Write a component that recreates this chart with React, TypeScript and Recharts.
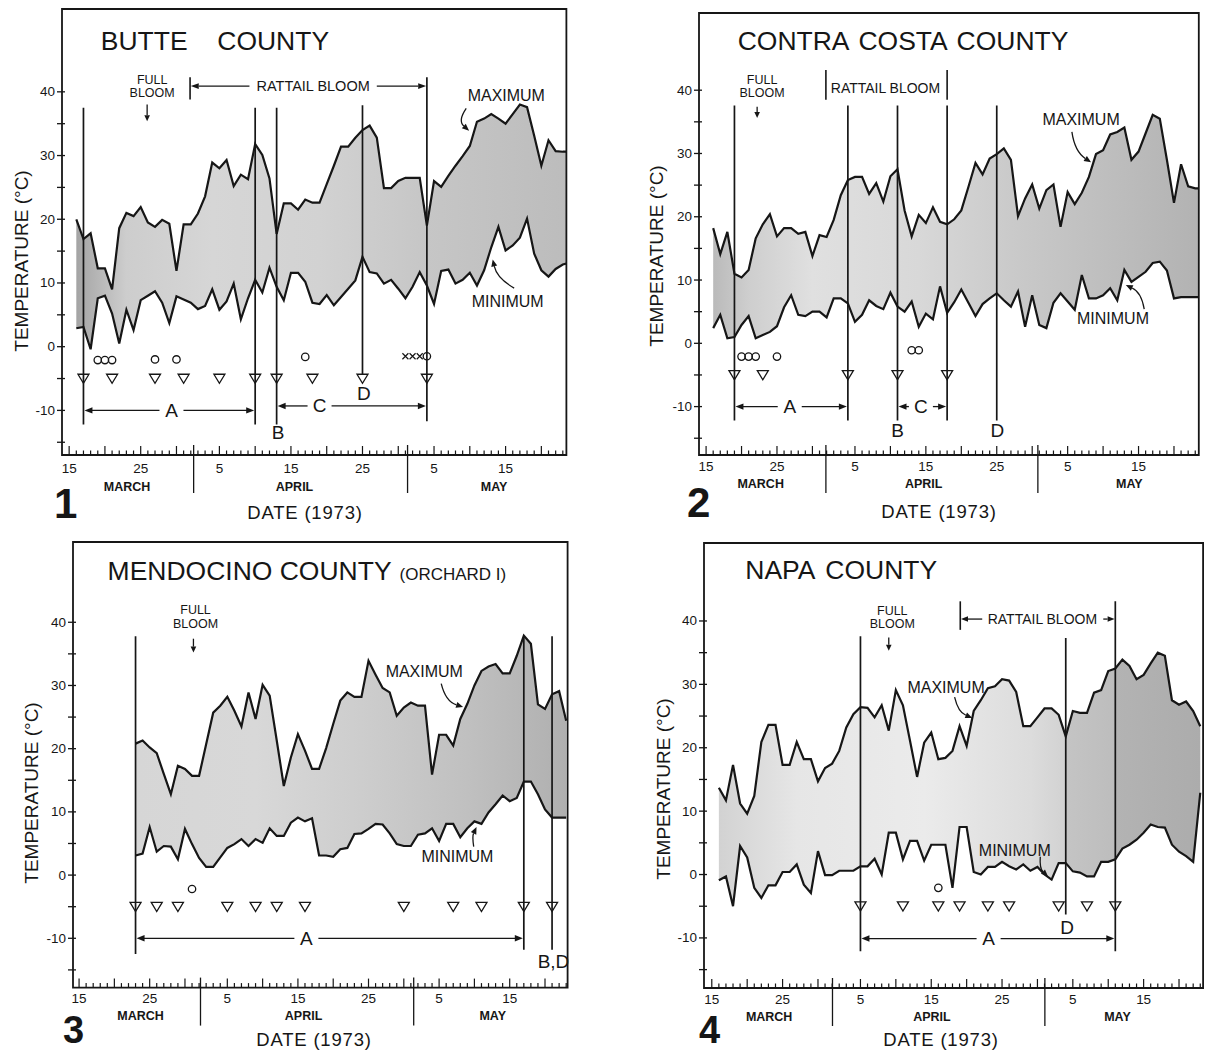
import React from 'react';
import {
  ComposedChart, Area, Line, XAxis, YAxis, ReferenceLine, ReferenceDot, ReferenceArea, Scatter,
} from 'recharts';

const FONT = '"Liberation Sans", Arial, Helvetica, sans-serif';
const INK = '#161616';

// ---------------- shared axis vocabulary (day 0 = 15 March 1973) ----------------
const dateTickLabels: Record<number, string> = { 0: '15', 10: '25', 21: '5', 31: '15', 41: '25', 51: '5', 61: '15' };
const monthNames = ['MARCH', 'APRIL', 'MAY'];
const tempTicks = [-15, -10, -5, 0, 5, 10, 15, 20, 25, 30, 35, 40];

// ---------------- 1  Butte County ----------------
const butteFirstDay = 1;
const butteMax = [
  20.0, 16.9, 17.8, 12.3, 12.3, 9.0, 18.6, 21.0, 20.5, 21.9,
  19.5, 18.8, 19.9, 19.3, 11.9, 19.2, 19.2, 20.9, 23.6, 28.9,
  28.0, 29.3, 25.2, 27.0, 26.3, 31.8, 30.1, 26.4, 17.7, 22.5,
  22.5, 21.5, 23.1, 22.6, 22.6, 25.5, 28.4, 31.4, 31.4, 32.8,
  34.0, 34.7, 32.8, 24.9, 24.9, 26.0, 26.5, 26.5, 26.5, 19.0,
  26.0, 25.1, 26.8, 28.4, 29.9, 31.5, 35.3, 35.8, 36.5, 35.8,
  35.0, 36.5, 38.0, 37.6, 33.1, 28.4, 32.4, 30.7, 30.6, 30.6,
];
const butteMin = [
  2.9, 3.1, -0.4, 7.6, 8.0, 5.2, 0.5, 5.8, 2.6, 7.3,
  8.0, 8.7, 6.9, 3.7, 7.9, 7.4, 6.9, 5.9, 6.4, 9.0,
  5.8, 7.1, 9.9, 4.3, 7.6, 10.5, 8.5, 12.4, 9.4, 7.3,
  11.6, 11.6, 10.2, 6.9, 6.7, 8.1, 6.5, 7.8, 9.1, 10.4,
  14.1, 11.7, 11.5, 9.9, 10.5, 9.1, 7.6, 9.4, 11.7, 9.6,
  6.7, 11.9, 12.1, 9.9, 10.5, 11.6, 9.6, 12.0, 15.6, 18.8,
  15.1, 15.9, 17.1, 20.1, 14.6, 12.0, 11.0, 12.2, 12.9, 13.2,
];
const butteTriangles = [2, 6, 12, 16, 21, 26, 29, 34, 41, 50];
const butteCircles = [
  { day: 4, t: -2.1 }, { day: 5, t: -2.1 }, { day: 6, t: -2.1 }, { day: 12, t: -2.0 },
  { day: 15, t: -2.0 }, { day: 33, t: -1.6 }, { day: 50, t: -1.5 },
];
const butteCrosses = [{ day: 47, t: -1.5 }, { day: 48, t: -1.5 }, { day: 49, t: -1.5 }];

// ---------------- 2  Contra Costa County ----------------
const contraFirstDay = 1;
const contraMax = [
  18.2, 14.1, 17.6, 11.0, 10.4, 11.6, 16.6, 18.8, 20.4, 16.9,
  18.2, 18.2, 17.3, 17.6, 13.8, 17.1, 16.8, 19.5, 23.4, 25.8,
  26.3, 26.3, 23.6, 25.3, 22.4, 26.4, 27.5, 21.0, 16.9, 20.3,
  19.0, 21.5, 19.2, 18.8, 19.6, 21.0, 24.7, 28.5, 26.7, 29.2,
  29.9, 30.8, 29.0, 20.1, 22.9, 25.1, 21.3, 24.2, 25.1, 18.4,
  23.9, 22.0, 23.8, 26.3, 29.9, 30.5, 33.0, 33.4, 34.1, 29.0,
  30.3, 33.2, 36.1, 35.5, 29.0, 22.2, 28.3, 24.8, 24.5, 24.5,
];
const contraMin = [
  2.4, 4.5, 0.8, 1.0, 2.9, 4.3, 0.8, 1.3, 1.8, 2.7,
  5.7, 7.6, 4.5, 4.3, 5.0, 5.0, 4.1, 7.1, 7.1, 6.3,
  3.4, 4.5, 6.8, 5.9, 5.4, 8.0, 5.8, 5.0, 6.6, 2.6,
  4.7, 3.8, 9.0, 4.8, 6.5, 8.5, 6.4, 4.3, 6.2, 7.1,
  7.9, 6.8, 5.8, 8.2, 2.6, 7.6, 2.9, 2.4, 6.4, 7.9,
  6.6, 5.3, 10.8, 7.1, 7.1, 7.6, 8.7, 6.8, 11.6, 9.7,
  10.5, 11.3, 12.7, 12.9, 11.5, 7.1, 7.3, 7.3, 7.3, 7.3,
];
const contraTriangles = [4, 8, 20, 27, 34];
const contraCircles = [
  { day: 5, t: -2.1 }, { day: 6, t: -2.1 }, { day: 7, t: -2.1 }, { day: 10, t: -2.1 },
  { day: 29, t: -1.1 }, { day: 30, t: -1.1 },
];

// ---------------- 3  Mendocino County (Orchard I) ----------------
const mendoFirstDay = 8;
const mendoMax = [
  20.8, 21.3, 20.2,
  19.3, 16.0, 12.8, 17.3, 16.8, 15.7, 15.7, 20.7, 25.7, 26.8,
  28.2, 26.0, 23.5, 28.9, 24.7, 30.1, 28.4, 21.3, 14.1, 18.6,
  22.3, 19.7, 16.8, 16.8, 20.1, 23.9, 27.6, 28.9, 28.2, 28.2,
  33.9, 31.7, 29.6, 28.9, 25.2, 26.5, 27.3, 26.8, 26.8, 15.9,
  22.2, 22.2, 20.5, 24.7, 27.1, 30.0, 32.3, 33.0, 33.4, 31.9,
  31.9, 34.7, 37.9, 36.6, 27.0, 26.3, 28.6, 29.1, 24.4,
];
const mendoMin = [
  3.1, 3.4, 7.6,
  3.7, 4.6, 4.5, 2.5, 7.3, 4.9, 2.7, 1.3, 1.3, 2.8,
  4.3, 4.9, 5.7, 4.6, 5.7, 5.1, 7.4, 6.2, 6.2, 8.3,
  9.1, 8.5, 9.0, 3.1, 3.1, 2.9, 4.1, 4.3, 6.5, 6.6,
  7.3, 8.1, 8.0, 6.6, 4.9, 4.6, 4.6, 6.4, 6.6, 7.4,
  5.4, 8.1, 8.1, 6.0, 7.4, 8.5, 8.1, 9.9, 11.2, 12.6,
  11.7, 12.2, 14.8, 14.8, 12.8, 10.4, 9.1, 9.1, 9.1,
];
const mendoTriangles = [8, 11, 14, 21, 25, 28, 32, 46, 53, 57, 63, 67];
const mendoCircles = [{ day: 16, t: -2.2 }];

// ---------------- 4  Napa County ----------------
const napaFirstDay = 1;
const napaMax = [
  13.7, 11.7, 17.3, 11.2, 9.6, 12.4, 20.9, 23.6, 23.6, 17.3,
  17.3, 20.9, 18.2, 18.2, 14.7, 16.8, 17.5, 19.5, 23.2, 25.3,
  26.4, 26.3, 24.8, 26.7, 22.7, 29.1, 26.7, 21.1, 15.4, 20.8,
  22.4, 18.2, 18.4, 19.5, 23.4, 20.3, 25.8, 27.5, 29.4, 29.7,
  30.8, 30.6, 28.8, 23.4, 23.4, 24.8, 26.2, 26.2, 25.2, 21.8,
  25.8, 25.5, 25.5, 28.7, 29.1, 32.1, 32.5, 33.9, 32.9, 30.8,
  31.5, 33.3, 35.0, 34.5, 27.5, 26.8, 27.3, 25.8, 23.4,
];
const napaMin = [
  -0.9, -0.3, -5.0, 4.5, 2.7, -2.1, -3.7, -1.7, -1.7, 0.4,
  0.4, 1.6, -1.6, -2.9, 3.7, -0.1, -0.1, 0.6, 0.6, 0.6,
  1.3, 1.3, 2.5, 0.0, 6.6, 6.6, 2.4, 5.3, 5.3, 2.2,
  4.7, 4.7, 4.7, -2.1, 7.5, 7.5, 0.4, 0.0, 1.2, 1.2,
  2.0, 1.3, 0.8, 1.6, 0.6, 1.2, 0.0, -0.8, 1.8, 1.8,
  0.5, 0.3, -0.3, -0.3, 2.0, 2.0, 2.4, 4.1, 4.7, 5.5,
  6.6, 7.9, 7.5, 7.4, 4.7, 3.6, 2.9, 2.0, 12.9,
];
const napaTriangles = [21, 27, 32, 35, 39, 42, 49, 53, 57];
const napaCircles = [{ day: 32, t: -2.1 }];

// ---------------- helpers ----------------
const dayOfMonth = (d: number) => (d <= 16 ? 15 + d : d <= 46 ? d - 16 : d - 46);

type Pt = [number, number];
type TextItem = { x: number; y: number; text: string; size: number; anchor?: string; baseline?: string; ws?: number };
type PanelCfg = {
  key: string; left: number; top: number; w: number; h: number;
  xDomain: [number, number]; yDomain: [number, number];
  firstDay: number; max: number[]; min: number[]; shade: [number, string][];
  triangles: number[]; circles: { day: number; t: number }[]; crosses: { day: number; t: number }[];
  stageLines: { day: number; top: number; bottom: number }[];
  bars: { day: number; top: number; bottom: number }[];
  pointers: { from: Pt; to: Pt; head?: number }[];
  spans: { from: number; to: number; y: number; label: string; at: number }[];
  curves: { from: Pt; to: Pt; bulge: number }[];
  texts: TextItem[];
  separators: number[]; monthDays: number[]; tickDy: number; monthDy: number;
};

const arrowHead = (x2: number, y2: number, ux: number, uy: number, hl: number, hw: number) => {
  const bx = x2 - ux * hl, by = y2 - uy * hl;
  return `M${x2},${y2} L${bx - uy * hw},${by + ux * hw} L${bx + uy * hw},${by - ux * hw} Z`;
};

const curveShape = (bulge: number) => (p: any) => {
  const { x1, y1, x2, y2 } = p;
  const dx = x2 - x1, dy = y2 - y1;
  const len = Math.hypot(dx, dy) || 1;
  const cx = (x1 + x2) / 2 + (dy / len) * bulge;
  const cy = (y1 + y2) / 2 - (dx / len) * bulge;
  const ax = x2 - cx, ay = y2 - cy;
  const al = Math.hypot(ax, ay) || 1;
  const ux = ax / al, uy = ay / al;
  const hl = 7;
  return (
    <g>
      <path d={`M${x1},${y1} Q${cx},${cy} ${x2 - ux * hl},${y2 - uy * hl}`} fill="none" stroke={INK} strokeWidth={1.3} />
      <path d={arrowHead(x2, y2, ux, uy, hl, 3)} fill={INK} />
    </g>
  );
};

const pointerShape = (hl: number) => (p: any) => {
  const { x1, y1, x2, y2 } = p;
  const dx = x2 - x1, dy = y2 - y1;
  const len = Math.hypot(dx, dy) || 1;
  const ux = dx / len, uy = dy / len;
  return (
    <g>
      <line x1={x1} y1={y1} x2={x2 - ux * hl} y2={y2 - uy * hl} stroke={INK} strokeWidth={1.3} />
      <path d={arrowHead(x2, y2, ux, uy, hl, 2.8)} fill={INK} />
    </g>
  );
};

const spanShape = (frac: number, label: string) => (p: any) => {
  const { x1, y1, x2 } = p;
  const lx = x1 + (x2 - x1) * frac;
  const gap = 12, hl = 8, hw = 3.2;
  return (
    <g>
      <line x1={x1 + hl} y1={y1} x2={lx - gap} y2={y1} stroke={INK} strokeWidth={1.3} />
      <line x1={lx + gap} y1={y1} x2={x2 - hl} y2={y1} stroke={INK} strokeWidth={1.3} />
      <path d={`M${x1 + 1},${y1} L${x1 + 1 + hl},${y1 - hw} L${x1 + 1 + hl},${y1 + hw} Z`} fill={INK} />
      <path d={`M${x2 - 1},${y1} L${x2 - 1 - hl},${y1 - hw} L${x2 - 1 - hl},${y1 + hw} Z`} fill={INK} />
      <text x={lx} y={y1} textAnchor="middle" dominantBaseline="central" fontSize={19} fontFamily={FONT} fill={INK}>{label}</text>
    </g>
  );
};

const triShape = (p: any) => {
  const { cx, cy } = p;
  return <path d={`M${cx - 5.5},${cy - 4.3} L${cx + 5.5},${cy - 4.3} L${cx},${cy + 4.8} Z`} fill="none" stroke={INK} strokeWidth={1.3} />;
};
const circleShape = (p: any) => <circle cx={p.cx} cy={p.cy} r={3.7} fill="none" stroke={INK} strokeWidth={1.3} />;
const crossShape = (p: any) => (
  <path d={`M${p.cx - 3},${p.cy - 3} L${p.cx + 3},${p.cy + 3} M${p.cx - 3},${p.cy + 3} L${p.cx + 3},${p.cy - 3}`} stroke={INK} strokeWidth={1.2} />
);

const textShape = (t: TextItem) => (p: any) => (
  <text
    x={p.cx} y={p.cy}
    textAnchor={t.anchor || 'middle'}
    dominantBaseline={t.baseline || 'central'}
    fontSize={t.size} fontFamily={FONT} fill={INK}
    style={t.ws ? { wordSpacing: t.ws } : undefined}
  >{t.text}</text>
);

const makeXTick = (cfg: PanelCfg) => (p: any) => {
  const { x, y, payload } = p;
  const v = payload.value;
  if (cfg.separators.includes(v)) {
    return <line x1={x} x2={x} y1={y - 10} y2={y + 38} stroke={INK} strokeWidth={1.3} />;
  }
  const mi = cfg.monthDays.indexOf(v);
  if (mi >= 0) {
    return (
      <text x={x} y={y + cfg.monthDy} textAnchor="middle" dominantBaseline="central" fontSize={12.5} fontWeight="bold" fontFamily={FONT} fill={INK}>
        {monthNames[mi]}
      </text>
    );
  }
  const major = dayOfMonth(v) % 5 === 0;
  const lbl = dateTickLabels[v];
  return (
    <g>
      <line x1={x} x2={x} y1={y} y2={y - (major ? 9 : 4.5)} stroke={INK} strokeWidth={1.2} />
      {lbl ? (
        <text x={x} y={y + cfg.tickDy} textAnchor="middle" dominantBaseline="central" fontSize={13.5} fontFamily={FONT} fill={INK}>{lbl}</text>
      ) : null}
    </g>
  );
};

const yTick = (p: any) => {
  const { x, y, payload } = p;
  const v = payload.value;
  return (
    <g>
      <line x1={x - 5} x2={x + 3} y1={y} y2={y} stroke={INK} strokeWidth={1.3} />
      {v % 10 === 0 ? (
        <text x={x - 7} y={y} textAnchor="end" dominantBaseline="central" fontSize={13.5} fontFamily={FONT} fill={INK}>{v}</text>
      ) : null}
    </g>
  );
};

// ---------------- panel layouts & annotations ----------------
const panels: PanelCfg[] = [
  {
    key: 'butte', left: 62, top: 9, w: 504.4, h: 446, xDomain: [-1, 69.5], yDomain: [-17, 53],
    firstDay: butteFirstDay, max: butteMax, min: butteMin,
    shade: [[1, '#a4a4a4'], [4, '#b6b6b6'], [8, '#cdcdcd'], [20, '#d6d6d6'], [35, '#d2d2d2'], [50, '#c6c6c6'], [70, '#bcbcbc']],
    triangles: butteTriangles, circles: butteCircles, crosses: butteCrosses,
    stageLines: [
      { day: 2, top: 37.5, bottom: -12.2 }, { day: 26, top: 37.5, bottom: -12.2 },
      { day: 29, top: 37.5, bottom: -12.2 }, { day: 41, top: 37.9, bottom: -4.3 },
      { day: 50, top: 42.3, bottom: -11.7 },
    ],
    bars: [{ day: 16.9, top: 42.3, bottom: 38.8 }],
    pointers: [
      { from: [10.9, 38.0], to: [10.9, 35.4], head: 6 },
      { from: [25.2, 40.9], to: [17.0, 40.9], head: 8 },
      { from: [43.0, 40.9], to: [49.9, 40.9], head: 8 },
    ],
    spans: [
      { from: 2, to: 26, y: -10, label: 'A', at: 14.3 },
      { from: 29, to: 50, y: -9.3, label: 'C', at: 35 },
    ],
    curves: [
      { from: [55.5, 37.4], to: [55.9, 33.9], bulge: -10 },
      { from: [62.2, 9.2], to: [59.2, 13.7], bulge: 8 },
    ],
    texts: [
      { x: 4.42, y: 46.6, text: 'BUTTE', size: 26.5, anchor: 'start', baseline: 'alphabetic' },
      { x: 20.7, y: 46.6, text: 'COUNTY', size: 26.5, anchor: 'start', baseline: 'alphabetic' },
      { x: 11.6, y: 41.9, text: 'FULL', size: 12.5 },
      { x: 11.6, y: 39.8, text: 'BLOOM', size: 12.5 },
      { x: 34.1, y: 40.9, text: 'RATTAIL BLOOM', size: 14.5 },
      { x: 61.1, y: 39.5, text: 'MAXIMUM', size: 16 },
      { x: 61.3, y: 7.1, text: 'MINIMUM', size: 16 },
      { x: 29.2, y: -13.4, text: 'B', size: 19 },
      { x: 41.2, y: -7.4, text: 'D', size: 19 },
    ],
    separators: [17.4, 47.3], monthDays: [8.1, 31.5, 59.4], tickDy: 14, monthDy: 32,
  },
  {
    key: 'contra', left: 698.9, top: 13, w: 499.8, h: 442, xDomain: [-1, 69.5], yDomain: [-17.65, 52.2],
    firstDay: contraFirstDay, max: contraMax, min: contraMin,
    shade: [[1, '#bababa'], [6, '#cecece'], [15, '#e0e0e0'], [30, '#d8d8d8'], [45, '#c8c8c8'], [60, '#bbbbbb'], [70, '#b2b2b2']],
    triangles: contraTriangles, circles: contraCircles, crosses: [],
    stageLines: [
      { day: 4, top: 37.6, bottom: -12.2 }, { day: 20, top: 37.6, bottom: -12.2 },
      { day: 27, top: 37.6, bottom: -12.2 }, { day: 34, top: 37.6, bottom: -12.2 },
      { day: 41, top: 37.6, bottom: -12.2 },
    ],
    bars: [{ day: 16.9, top: 43.2, bottom: 38.5 }, { day: 34, top: 43.2, bottom: 38.5 }],
    pointers: [{ from: [7.2, 37.4], to: [7.2, 35.6], head: 6 }],
    spans: [
      { from: 4, to: 20, y: -10, label: 'A', at: 11.8 },
      { from: 27, to: 34, y: -10, label: 'C', at: 30.3 },
    ],
    curves: [
      { from: [51.6, 33.4], to: [54.3, 28.6], bulge: -8 },
      { from: [61.8, 5.4], to: [59.2, 9.2], bulge: -8 },
    ],
    texts: [
      { x: 4.46, y: 46.3, text: 'CONTRA COSTA COUNTY', size: 26.5, anchor: 'start', baseline: 'alphabetic', ws: 3 },
      { x: 7.9, y: 41.6, text: 'FULL', size: 12.5 },
      { x: 7.9, y: 39.6, text: 'BLOOM', size: 12.5 },
      { x: 25.3, y: 40.4, text: 'RATTAIL BLOOM', size: 14 },
      { x: 52.9, y: 35.4, text: 'MAXIMUM', size: 16 },
      { x: 57.4, y: 3.9, text: 'MINIMUM', size: 16 },
      { x: 27, y: -13.7, text: 'B', size: 19 },
      { x: 41.1, y: -13.7, text: 'D', size: 19 },
    ],
    separators: [16.9, 46.8], monthDays: [7.7, 30.7, 59.7], tickDy: 12, monthDy: 29,
  },
  {
    key: 'mendo', left: 73.1, top: 542, w: 494.6, h: 445.6, xDomain: [-0.86, 69.2], yDomain: [-17.8, 52.7],
    firstDay: mendoFirstDay, max: mendoMax, min: mendoMin,
    shade: [[8, '#d6d6d6'], [25, '#d8d8d8'], [40, '#cdcdcd'], [55, '#c0c0c0'], [69, '#b0b0b0']],
    triangles: mendoTriangles, circles: mendoCircles, crosses: [],
    stageLines: [
      { day: 8, top: 37.8, bottom: -12.5 }, { day: 63, top: 37.8, bottom: -11.8 },
      { day: 67, top: 37.8, bottom: -11.8 },
    ],
    bars: [],
    pointers: [{ from: [16.2, 37.4], to: [16.2, 35.2], head: 6 }],
    spans: [{ from: 8, to: 63, y: -10, label: 'A', at: 32.2 }],
    curves: [
      { from: [51.3, 30.3], to: [54.4, 26.6], bulge: -9 },
      { from: [55.9, 4.5], to: [56.3, 7.6], bulge: 3 },
    ],
    texts: [
      { x: 4.04, y: 46.7, text: 'MENDOCINO COUNTY', size: 26.5, anchor: 'start', baseline: 'alphabetic' },
      { x: 45.4, y: 46.7, text: '(ORCHARD I)', size: 17, anchor: 'start', baseline: 'alphabetic' },
      { x: 16.5, y: 41.9, text: 'FULL', size: 12.5 },
      { x: 16.5, y: 39.7, text: 'BLOOM', size: 12.5 },
      { x: 48.9, y: 32.2, text: 'MAXIMUM', size: 16 },
      { x: 53.6, y: 2.9, text: 'MINIMUM', size: 16 },
      { x: 67.2, y: -13.6, text: 'B,D', size: 19 },
    ],
    separators: [17.2, 47.4], monthDays: [8.7, 31.8, 58.6], tickDy: 11, monthDy: 28,
  },
  {
    key: 'napa', left: 704.0, top: 543, w: 499.1, h: 445, xDomain: [-1.1, 69.4], yDomain: [-17.9, 52.3],
    firstDay: napaFirstDay, max: napaMax, min: napaMin,
    shade: [[1, '#d2d2d2'], [12, '#e6e6e6'], [30, '#ebebeb'], [45, '#dcdcdc'], [49.9, '#d2d2d2'], [50.1, '#c4c4c4'], [56.9, '#bdbdbd'], [57.1, '#b3b3b3'], [69, '#acacac']],
    triangles: napaTriangles, circles: napaCircles, crosses: [],
    stageLines: [
      { day: 21, top: 37.6, bottom: -12.1 }, { day: 50, top: 37.3, bottom: -6.3 },
      { day: 57, top: 43.1, bottom: -12.1 },
    ],
    bars: [{ day: 35.1, top: 43.1, bottom: 38.6 }],
    pointers: [
      { from: [25, 37.4], to: [25, 35.3], head: 6 },
      { from: [38.2, 40.3], to: [35.2, 40.3], head: 7 },
      { from: [55.3, 40.3], to: [56.9, 40.3], head: 7 },
    ],
    spans: [{ from: 21, to: 57, y: -10.1, label: 'A', at: 39.1 }],
    curves: [
      { from: [34.3, 28.0], to: [36.8, 24.7], bulge: -7 },
      { from: [46.4, 2.8], to: [47.5, -0.3], bulge: -5 },
    ],
    texts: [
      { x: 4.73, y: 46.6, text: 'NAPA COUNTY', size: 26.5, anchor: 'start', baseline: 'alphabetic', ws: 4 },
      { x: 25.5, y: 41.6, text: 'FULL', size: 12.5 },
      { x: 25.5, y: 39.6, text: 'BLOOM', size: 12.5 },
      { x: 46.7, y: 40.3, text: 'RATTAIL BLOOM', size: 14 },
      { x: 33.1, y: 29.5, text: 'MAXIMUM', size: 16 },
      { x: 42.8, y: 3.8, text: 'MINIMUM', size: 16 },
      { x: 50.2, y: -8.3, text: 'D', size: 19 },
    ],
    separators: [17.05, 47.05], monthDays: [8.1, 31.1, 57.3], tickDy: 12, monthDy: 29,
  },
];

const captions = [
  { text: '1', left: 54, top: 483, size: 42 },
  { text: '2', left: 687, top: 482, size: 42 },
  { text: '3', left: 63, top: 1011, size: 38 },
  { text: '4', left: 699, top: 1011, size: 38 },
];
const dateTitles = [
  { cx: 305, cy: 513 }, { cx: 939, cy: 512 }, { cx: 314, cy: 1040 }, { cx: 941, cy: 1040 },
];
const tempTitles = [
  { cx: 21, cy: 261 }, { cx: 656, cy: 256 }, { cx: 31, cy: 793 }, { cx: 663, cy: 789 },
];

function Panel({ cfg }: { cfg: PanelCfg }) {
  const YW = 50, MT = 5, MR = 6, XH = 72;
  const data = cfg.max.map((mx, i) => ({
    day: cfg.firstDay + i, max: mx, min: cfg.min[i], range: [cfg.min[i], mx],
  }));
  const lastDay = cfg.firstDay + cfg.max.length - 1;
  const xTicks = [
    ...Array.from({ length: 70 }, (_, i) => i),
    ...cfg.separators,
    ...cfg.monthDays,
  ];
  const gid = `shade-${cfg.key}`;
  const tri = cfg.triangles.map((d) => ({ day: d, t: -5 }));
  return (
    <div style={{ position: 'absolute', left: cfg.left - YW, top: cfg.top - MT }}>
      <ComposedChart
        width={YW + cfg.w + MR}
        height={MT + cfg.h + XH}
        data={data}
        margin={{ top: MT, right: MR, bottom: 0, left: 0 }}
      >
        <defs>
          <linearGradient id={gid} x1="0" y1="0" x2="1" y2="0">
            {cfg.shade.map(([d, c], i) => (
              <stop key={i} offset={Math.min(1, Math.max(0, (d - cfg.firstDay) / (lastDay - cfg.firstDay)))} stopColor={c} />
            ))}
          </linearGradient>
        </defs>
        <XAxis
          dataKey="day" type="number" domain={cfg.xDomain} allowDataOverflow
          ticks={xTicks} interval={0} tickSize={0} tickMargin={0} height={XH}
          axisLine={false} tickLine={false} tick={makeXTick(cfg)}
        />
        <YAxis
          type="number" domain={cfg.yDomain} allowDataOverflow ticks={tempTicks} interval={0}
          tickSize={0} tickMargin={0} width={YW} axisLine={false} tickLine={false} tick={yTick}
        />
        <Area dataKey="range" type="linear" stroke="none" fill={`url(#${gid})`} fillOpacity={1} isAnimationActive={false} legendType="none" />
        <Line dataKey="max" type="linear" stroke={INK} strokeWidth={2.2} dot={false} isAnimationActive={false} legendType="none" />
        <Line dataKey="min" type="linear" stroke={INK} strokeWidth={2.2} dot={false} isAnimationActive={false} legendType="none" />
        <ReferenceArea
          x1={cfg.xDomain[0]} x2={cfg.xDomain[1]} y1={cfg.yDomain[0]} y2={cfg.yDomain[1]}
          fill="none" fillOpacity={0} stroke={INK} strokeWidth={1.8} ifOverflow="visible"
        />
        {cfg.stageLines.map((s, i) => (
          <ReferenceLine key={`st${i}`} segment={[{ x: s.day, y: s.top }, { x: s.day, y: s.bottom }]} stroke={INK} strokeWidth={1.7} ifOverflow="visible" />
        ))}
        {cfg.bars.map((s, i) => (
          <ReferenceLine key={`bar${i}`} segment={[{ x: s.day, y: s.top }, { x: s.day, y: s.bottom }]} stroke={INK} strokeWidth={1.6} ifOverflow="visible" />
        ))}
        {cfg.pointers.map((a, i) => (
          <ReferenceLine key={`pt${i}`} segment={[{ x: a.from[0], y: a.from[1] }, { x: a.to[0], y: a.to[1] }]} ifOverflow="visible" shape={pointerShape(a.head || 7)} />
        ))}
        {cfg.spans.map((s, i) => (
          <ReferenceLine key={`sp${i}`} segment={[{ x: s.from, y: s.y }, { x: s.to, y: s.y }]} ifOverflow="visible" shape={spanShape((s.at - s.from) / (s.to - s.from), s.label)} />
        ))}
        {cfg.curves.map((c, i) => (
          <ReferenceLine key={`cv${i}`} segment={[{ x: c.from[0], y: c.from[1] }, { x: c.to[0], y: c.to[1] }]} ifOverflow="visible" shape={curveShape(c.bulge)} />
        ))}
        {cfg.texts.map((t, i) => (
          <ReferenceDot key={`tx${i}`} x={t.x} y={t.y} r={0} ifOverflow="visible" shape={textShape(t)} />
        ))}
        <Scatter data={tri} dataKey="t" shape={triShape} isAnimationActive={false} legendType="none" />
        <Scatter data={cfg.circles} dataKey="t" shape={circleShape} isAnimationActive={false} legendType="none" />
        {cfg.crosses.length ? (
          <Scatter data={cfg.crosses} dataKey="t" shape={crossShape} isAnimationActive={false} legendType="none" />
        ) : null}
      </ComposedChart>
    </div>
  );
}

export default function App() {
  return (
    <div style={{ position: 'absolute', left: 0, top: 0, width: 1205, height: 1052, background: '#fff', fontFamily: FONT, color: INK, overflow: 'hidden' }}>
      {panels.map((cfg) => <Panel key={cfg.key} cfg={cfg} />)}
      {captions.map((c, i) => (
        <div key={`cap${i}`} style={{ position: 'absolute', left: c.left, top: c.top, fontSize: c.size, lineHeight: 1, fontWeight: 'bold', fontFamily: FONT }}>{c.text}</div>
      ))}
      {dateTitles.map((d, i) => (
        <div key={`dt${i}`} style={{ position: 'absolute', left: d.cx, top: d.cy, transform: 'translate(-50%, -50%)', fontSize: 18.5, lineHeight: 1, whiteSpace: 'nowrap', letterSpacing: 0.8, fontFamily: FONT }}>DATE (1973)</div>
      ))}
      {tempTitles.map((d, i) => (
        <div key={`tt${i}`} style={{ position: 'absolute', left: d.cx, top: d.cy, transform: 'translate(-50%, -50%) rotate(-90deg)', fontSize: 19, lineHeight: 1, whiteSpace: 'nowrap', fontFamily: FONT }}>TEMPERATURE (°C)</div>
      ))}
    </div>
  );
}
